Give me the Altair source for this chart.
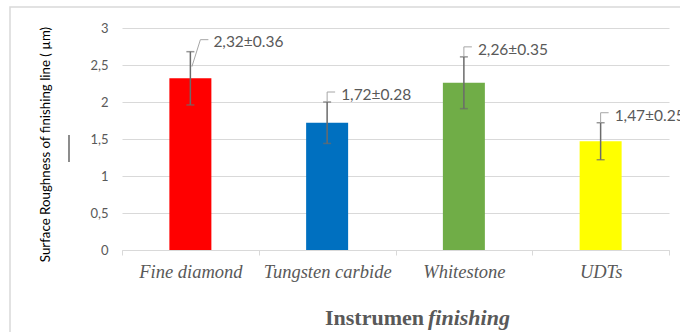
import altair as alt
import pandas as pd

categories = ["Fine diamond", "Tungsten carbide", "Whitestone", "UDTs"]
means = [2.32, 1.72, 2.26, 1.47]
errors = [0.36, 0.28, 0.35, 0.25]
labels = ["2,32±0.36", "1,72±0.28", "2,26±0.35", "1,47±0.25"]
colors = ["#FF0000", "#0070C0", "#70AD47", "#FFFF00"]
y_ticks = [0, 0.5, 1, 1.5, 2, 2.5, 3]

df = pd.DataFrame({
    "cat": categories,
    "mean": means,
    "err": errors,
    "label": labels,
})
df["lo"] = df["mean"] - df["err"]
df["hi"] = df["mean"] + df["err"]

W, H = 547, 222
GRAY = "#595959"

x_axis = alt.Axis(
    title=None,
    domainColor="#d9d9d9",
    tickColor="#d9d9d9",
    tickSize=5,
    tickBand="extent",
    labelAngle=0,
    labelFont="Liberation Serif",
    labelFontStyle="italic",
    labelFontSize=18.5,
    labelColor=GRAY,
    labelPadding=7,
)
y_axis = alt.Axis(
    values=y_ticks,
    tickCount=7,
    domain=False,
    ticks=False,
    grid=True,
    gridColor="#d9d9d9",
    labelExpr="replace(format(datum.value, '~g'), '.', ',')",
    labelFont="Lato",
    labelFontSize=13,
    labelColor=GRAY,
    labelPadding=14,
    labelOverlap=False,
    title="Surface Roughness of finishing line ( µm)",
    titleFont="Lato",
    titleFontSize=13.3,
    titleFontWeight="normal",
    titleColor="#000000",
    titleX=-77,
    titleY=116,
    titleAngle=270,
    titleAlign="center",
    titleBaseline="middle",
)
y_scale = alt.Scale(domain=[0, 3], nice=False)


def X():
    return alt.X("cat:N", sort=categories, scale=alt.Scale(paddingInner=0, paddingOuter=0), axis=x_axis)


def Y(field):
    return alt.Y(field, type="quantitative", scale=y_scale, axis=y_axis)


base = alt.Chart(df)

bars = base.mark_bar(size=42).encode(
    x=X(),
    y=Y("mean"),
    color=alt.Color("cat:N", scale=alt.Scale(domain=categories, range=colors), legend=None),
)

ERR = "#6b6b6b"
err_rule = base.mark_rule(color=ERR, strokeWidth=1.5).encode(x=X(), y=Y("lo"), y2="hi:Q")
cap_lo = base.mark_tick(color=ERR, size=8, thickness=1.5, orient="horizontal").encode(x=X(), y=Y("lo"))
cap_hi = base.mark_tick(color=ERR, size=8, thickness=1.5, orient="horizontal").encode(x=X(), y=Y("hi"))

LEAD = "#a6a6a6"
red = base.transform_filter(alt.datum.cat == categories[0])
others = base.transform_filter(alt.datum.cat != categories[0])

lead_red_diag = red.mark_rule(color=LEAD, strokeWidth=1, xOffset=1.5, yOffset=15, x2Offset=10, y2Offset=-12).encode(
    x=X(), x2="cat:N", y=Y("hi"), y2="hi:Q"
)
lead_red_h = red.mark_rule(color=LEAD, strokeWidth=1, xOffset=10, yOffset=-12, x2Offset=18, y2Offset=-12).encode(
    x=X(), x2="cat:N", y=Y("hi"), y2="hi:Q"
)
text_red = red.mark_text(align="left", baseline="middle", dx=23, dy=-10, font="Lato", fontSize=15.5, color=GRAY).encode(
    x=X(), y=Y("hi"), text="label:N"
)

lead_o_v = others.mark_rule(color=LEAD, strokeWidth=1, y2Offset=-10).encode(
    x=X(), y=Y("hi"), y2="hi:Q"
)
lead_o_h = others.mark_rule(color=LEAD, strokeWidth=1, yOffset=-10, x2Offset=8, y2Offset=-10).encode(
    x=X(), x2="cat:N", y=Y("hi"), y2="hi:Q"
)
text_o = others.mark_text(align="left", baseline="middle", dx=14, dy=-7, font="Lato", fontSize=15.5, color=GRAY).encode(
    x=X(), y=Y("hi"), text="label:N"
)

annot = alt.Chart(pd.DataFrame({"a": [0]}))
frame = annot.mark_rect(fill="transparent", stroke="#d9d9d9", strokeWidth=1.5).encode(
    x=alt.value(-112), x2=alt.value(W + 30), y=alt.value(-21), y2=alt.value(H + 100)
)
stray = annot.mark_rule(color="#404040", strokeWidth=1.2).encode(
    x=alt.value(-53), y=alt.value(107), y2=alt.value(134)
)
title1 = annot.mark_text(
    align="left", baseline="alphabetic", font="Liberation Serif", fontSize=22, fontWeight="bold", color=GRAY
).encode(x=alt.value(203), y=alt.value(297), text=alt.value("Instrumen"))
title2 = annot.mark_text(
    align="left", baseline="alphabetic", font="Liberation Serif", fontSize=22, fontWeight="bold",
    fontStyle="italic", color=GRAY
).encode(x=alt.value(306), y=alt.value(297), text=alt.value("finishing"))

chart = alt.layer(
    frame, bars, err_rule, cap_lo, cap_hi,
    lead_red_diag, lead_red_h, text_red,
    lead_o_v, lead_o_h, text_o,
    stray, title1, title2,
).properties(
    width=W,
    height=H,
    autosize=alt.AutoSizeParams(type="none"),
    padding={"left": 122, "top": 28, "right": 11, "bottom": 82},
    background="white",
).configure_view(stroke=None)

chart.save("out.html", embed_options={"renderer": "svg", "actions": False})
